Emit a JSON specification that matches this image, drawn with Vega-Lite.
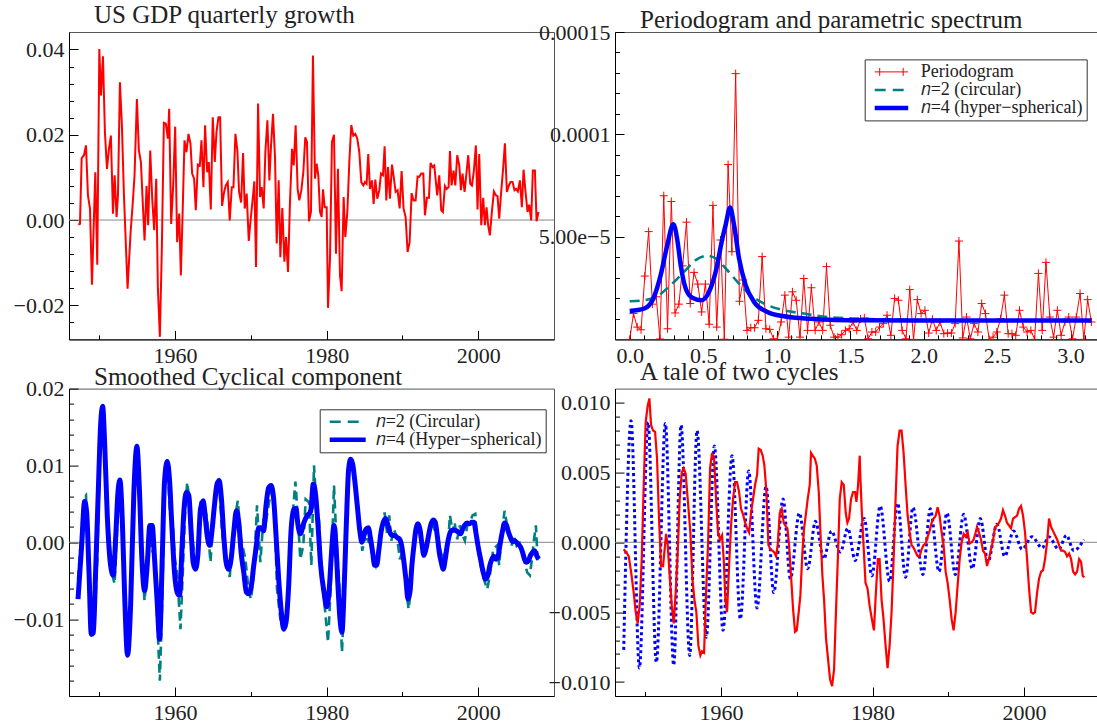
{
"$schema": "https://vega.github.io/schema/vega-lite/v6.json",
"padding": {"left": 12, "top": 2, "right": 0, "bottom": 0},
"bounds": "flush",
"columns": 2,
"spacing": {"row": 48.6, "column": 61},
"resolve": {"scale": {"color": "independent"}, "legend": {"color": "independent"}},
"config": {
  "font": "Liberation Serif",
  "view": {"stroke": "#555", "strokeWidth": 1},
  "axis": {"labelFont": "Liberation Serif", "labelFontSize": 22, "labelColor": "#222", "domainColor": "#000", "tickColor": "#000", "grid": false, "labelFlush": false, "labelOverlap": false, "domainWidth": 1, "tickWidth": 1},
  "title": {"font": "Liberation Serif", "fontSize": 25, "fontWeight": "normal", "color": "#222", "anchor": "start", "dx": 25, "offset": 4, "baseline": "alphabetic", "frame": "group"}
},
"datasets": {
"gdp": [
{"t":1947.23,"v":-0.0011},{"t":1947.45,"v":-0.0009},{"t":1947.67,"v":0.0145},{"t":1947.98,"v":0.0152},{"t":1948.24,"v":0.0175},{"t":1948.50,"v":0.0058},{"t":1948.77,"v":0.0027},{"t":1949.03,"v":-0.0152},{"t":1949.47,"v":0.0112},{"t":1949.73,"v":-0.0105},{"t":1950.00,"v":0.0401},{"t":1950.22,"v":0.0292},{"t":1950.48,"v":0.0384},{"t":1950.74,"v":0.0206},{"t":1951.01,"v":0.0120},{"t":1951.27,"v":0.0167},{"t":1951.53,"v":0.0198},{"t":1951.80,"v":0.0015},{"t":1952.02,"v":0.0105},{"t":1952.28,"v":0.0007},{"t":1952.46,"v":0.0058},{"t":1952.72,"v":0.0323},{"t":1952.98,"v":0.0222},{"t":1953.25,"v":0.0058},{"t":1953.73,"v":-0.0161},{"t":1954.13,"v":-0.0028},{"t":1954.39,"v":0.0034},{"t":1954.65,"v":0.0105},{"t":1954.96,"v":0.0284},{"t":1955.22,"v":0.0163},{"t":1955.49,"v":0.0136},{"t":1955.75,"v":0.0034},{"t":1955.97,"v":-0.0048},{"t":1956.23,"v":0.0080},{"t":1956.45,"v":-0.0012},{"t":1956.72,"v":0.0163},{"t":1956.98,"v":0.0050},{"t":1957.24,"v":-0.0024},{"t":1957.51,"v":0.0097},{"t":1957.73,"v":-0.0161},{"t":1957.99,"v":-0.0274},{"t":1958.25,"v":-0.0067},{"t":1958.52,"v":0.0228},{"t":1958.78,"v":0.0226},{"t":1959.04,"v":0.0191},{"t":1959.22,"v":0.0261},{"t":1959.48,"v":-0.0009},{"t":1959.75,"v":0.0081},{"t":1960.01,"v":0.0219},{"t":1960.27,"v":-0.0052},{"t":1960.54,"v":0.0015},{"t":1960.76,"v":-0.0130},{"t":1961.02,"v":0.0034},{"t":1961.24,"v":0.0187},{"t":1961.50,"v":0.0159},{"t":1961.77,"v":0.0202},{"t":1962.03,"v":0.0179},{"t":1962.25,"v":0.0109},{"t":1962.51,"v":0.0097},{"t":1962.73,"v":0.0023},{"t":1963.00,"v":0.0130},{"t":1963.26,"v":0.0128},{"t":1963.48,"v":0.0187},{"t":1963.74,"v":0.0077},{"t":1963.96,"v":0.0222},{"t":1964.23,"v":0.0112},{"t":1964.45,"v":0.0136},{"t":1964.71,"v":0.0025},{"t":1964.97,"v":0.0241},{"t":1965.24,"v":0.0136},{"t":1965.46,"v":0.0206},{"t":1965.72,"v":0.0241},{"t":1965.94,"v":0.0241},{"t":1966.20,"v":0.0033},{"t":1966.47,"v":0.0066},{"t":1966.69,"v":0.0081},{"t":1966.95,"v":0.0089},{"t":1967.21,"v":-0.0001},{"t":1967.48,"v":0.0077},{"t":1967.70,"v":0.0077},{"t":1967.96,"v":0.0202},{"t":1968.22,"v":0.0163},{"t":1968.44,"v":0.0066},{"t":1968.71,"v":0.0041},{"t":1968.97,"v":0.0157},{"t":1969.19,"v":0.0027},{"t":1969.45,"v":0.0062},{"t":1969.72,"v":-0.0049},{"t":1969.98,"v":0.0003},{"t":1970.20,"v":0.0042},{"t":1970.46,"v":0.0091},{"t":1970.68,"v":-0.0110},{"t":1970.95,"v":0.0273},{"t":1971.21,"v":0.0054},{"t":1971.43,"v":0.0077},{"t":1971.69,"v":0.0027},{"t":1971.91,"v":0.0159},{"t":1972.18,"v":0.0234},{"t":1972.44,"v":0.0093},{"t":1972.66,"v":0.0175},{"t":1972.92,"v":0.0249},{"t":1973.19,"v":0.0144},{"t":1973.41,"v":-0.0055},{"t":1973.67,"v":0.0093},{"t":1973.89,"v":-0.0087},{"t":1974.15,"v":0.0028},{"t":1974.42,"v":-0.0098},{"t":1974.64,"v":-0.0040},{"t":1974.90,"v":-0.0122},{"t":1975.16,"v":0.0042},{"t":1975.43,"v":0.0167},{"t":1975.65,"v":0.0128},{"t":1975.91,"v":0.0222},{"t":1976.17,"v":0.0073},{"t":1976.39,"v":0.0046},{"t":1976.66,"v":0.0070},{"t":1976.92,"v":0.0112},{"t":1977.18,"v":0.0194},{"t":1977.40,"v":0.0183},{"t":1977.67,"v":-0.0003},{"t":1977.93,"v":0.0019},{"t":1978.19,"v":0.0386},
{"t":1978.46,"v":0.0097},{"t":1978.68,"v":0.0132},{"t":1978.90,"v":0.0105},{"t":1979.12,"v":0.0019},{"t":1979.34,"v":0.0007},{"t":1979.52,"v":0.0072},{"t":1979.74,"v":0.0030},{"t":1980.00,"v":0.0030},{"t":1980.18,"v":-0.0206},{"t":1980.44,"v":-0.0091},{"t":1980.70,"v":0.0183},{"t":1980.97,"v":0.0200},{"t":1981.23,"v":-0.0079},{"t":1981.49,"v":0.0120},{"t":1981.76,"v":-0.0130},{"t":1981.98,"v":-0.0167},{"t":1982.24,"v":0.0054},{"t":1982.46,"v":-0.0040},{"t":1982.73,"v":0.0019},{"t":1982.99,"v":0.0136},{"t":1983.25,"v":0.0223},{"t":1983.52,"v":0.0198},{"t":1983.78,"v":0.0202},{"t":1984.04,"v":0.0191},{"t":1984.31,"v":0.0159},{"t":1984.57,"v":0.0089},{"t":1984.84,"v":0.0081},{"t":1985.06,"v":0.0089},{"t":1985.27,"v":0.0085},{"t":1985.49,"v":0.0155},{"t":1985.71,"v":0.0073},{"t":1985.98,"v":0.0093},{"t":1986.20,"v":0.0038},{"t":1986.42,"v":0.0095},{"t":1986.68,"v":0.0050},{"t":1986.95,"v":0.0070},{"t":1987.17,"v":0.0109},{"t":1987.43,"v":0.0105},{"t":1987.65,"v":0.0173},{"t":1987.87,"v":0.0046},{"t":1988.09,"v":0.0124},{"t":1988.35,"v":0.0050},{"t":1988.62,"v":0.0130},{"t":1988.88,"v":0.0097},{"t":1989.10,"v":0.0066},{"t":1989.36,"v":0.0070},{"t":1989.63,"v":0.0027},{"t":1989.89,"v":0.0115},{"t":1990.15,"v":0.0027},{"t":1990.42,"v":0.0007},{"t":1990.68,"v":-0.0075},{"t":1990.95,"v":-0.0052},{"t":1991.21,"v":0.0063},{"t":1991.47,"v":0.0046},{"t":1991.74,"v":0.0046},{"t":1992.00,"v":0.0102},{"t":1992.22,"v":0.0101},{"t":1992.48,"v":0.0109},{"t":1992.75,"v":0.0109},{"t":1992.97,"v":0.0011},{"t":1993.23,"v":0.0052},{"t":1993.50,"v":0.0052},{"t":1993.71,"v":0.0134},{"t":1993.98,"v":0.0124},{"t":1994.20,"v":0.0128},{"t":1994.37,"v":0.0097},{"t":1994.59,"v":0.0058},{"t":1994.86,"v":0.0105},{"t":1995.12,"v":0.0023},{"t":1995.34,"v":0.0019},{"t":1995.61,"v":0.0080},{"t":1995.83,"v":0.0073},{"t":1996.09,"v":0.0077},{"t":1996.27,"v":0.0162},{"t":1996.48,"v":0.0081},{"t":1996.75,"v":0.0116},{"t":1996.97,"v":0.0081},{"t":1997.23,"v":0.0152},{"t":1997.50,"v":0.0128},{"t":1997.72,"v":0.0070},{"t":1997.93,"v":0.0109},{"t":1998.20,"v":0.0066},{"t":1998.46,"v":0.0112},{"t":1998.68,"v":0.0152},{"t":1998.95,"v":0.0085},{"t":1999.17,"v":0.0081},{"t":1999.43,"v":0.0116},{"t":1999.69,"v":0.0175},{"t":1999.91,"v":0.0025},{"t":2000.13,"v":0.0155},{"t":2000.40,"v":-0.0012},{"t":2000.66,"v":0.0052},{"t":2000.88,"v":-0.0012},{"t":2001.10,"v":0.0030},{"t":2001.32,"v":-0.0014},{"t":2001.54,"v":-0.0036},{"t":2001.80,"v":0.0019},{"t":2002.07,"v":0.0067},{"t":2002.33,"v":0.0058},{"t":2002.55,"v":0.0056},{"t":2002.77,"v":0.0003},{"t":2003.03,"v":0.0066},{"t":2003.30,"v":0.0124},{"t":2003.52,"v":0.0180},{"t":2003.78,"v":0.0066},{"t":2004.05,"v":0.0081},{"t":2004.27,"v":0.0089},{"t":2004.53,"v":0.0089},{"t":2004.79,"v":0.0070},{"t":2005.01,"v":0.0073},{"t":2005.23,"v":0.0067},{"t":2005.50,"v":0.0093},{"t":2005.76,"v":0.0030},{"t":2005.98,"v":0.0118},{"t":2006.24,"v":0.0066},{"t":2006.51,"v":0.0019},{"t":2006.73,"v":0.0036},{"t":2006.99,"v":-0.0001},{"t":2007.21,"v":0.0116},{"t":2007.48,"v":0.0116},{"t":2007.70,"v":-0.0003},{"t":2007.96,"v":0.0019}
],
"pg": [
{"f":0,"p":0.0},{"f":0.0258,"p":1.26e-5},{"f":0.0515,"p":6.0e-6},{"f":0.0773,"p":4.7e-6},{"f":0.1030,"p":3.09e-5},{"f":0.1288,"p":5.26e-5},{"f":0.1545,"p":1.72e-5},{"f":0.1803,"p":2.08e-5},{"f":0.2060,"p":2e-7},{"f":0.2318,"p":7.01e-5},{"f":0.2575,"p":5.2e-6},{"f":0.2833,"p":6.73e-5},{"f":0.3090,"p":1.29e-5},{"f":0.3348,"p":1.72e-5},{"f":0.3605,"p":3.59e-5},{"f":0.3863,"p":5.72e-5},{"f":0.4120,"p":1.75e-5},{"f":0.4378,"p":3.27e-5},{"f":0.4635,"p":2.70e-5},{"f":0.4893,"p":1.34e-5},{"f":0.5150,"p":2.70e-5},{"f":0.5408,"p":7.4e-6},{"f":0.5665,"p":6.54e-5},{"f":0.5923,"p":6.0e-6},{"f":0.6180,"p":4.85e-5},{"f":0.6438,"p":1e-7},{"f":0.6695,"p":8.53e-5},{"f":0.6953,"p":4.28e-5},{"f":0.7210,"p":1.297e-4},{"f":0.7468,"p":1.86e-5},{"f":0.7725,"p":2.9e-5},{"f":0.7983,"p":4.4e-6},{"f":0.8240,"p":5.7e-6},{"f":0.8498,"p":5.7e-6},{"f":0.8755,"p":9.3e-6},{"f":0.9013,"p":4.04e-5},{"f":0.9270,"p":5.2e-6},{"f":0.9528,"p":4.9e-6},{"f":0.9785,"p":3e-7},{"f":1.0043,"p":0.0},{"f":1.0300,"p":8.5e-6},{"f":1.0558,"p":2.16e-5},{"f":1.0815,"p":1.1e-6},{"f":1.1073,"p":2.32e-5},{"f":1.1330,"p":1.91e-5},{"f":1.1588,"p":1.1e-6},{"f":1.1845,"p":2.97e-5},{"f":1.2103,"p":4.4e-6},{"f":1.2361,"p":2.52e-5},{"f":1.2618,"p":4.4e-6},{"f":1.2876,"p":8.5e-6},{"f":1.3133,"p":4.4e-6},{"f":1.3391,"p":3.55e-5},{"f":1.3648,"p":6.9e-6},{"f":1.3906,"p":1.1e-6},{"f":1.4163,"p":1.1e-6},{"f":1.4421,"p":2.3e-6},{"f":1.4678,"p":4.4e-6},{"f":1.4936,"p":5.2e-6},{"f":1.5193,"p":8.5e-6},{"f":1.5451,"p":4.4e-6},{"f":1.5708,"p":1.0e-5},{"f":1.5966,"p":1.05e-5},{"f":1.6223,"p":3e-7},{"f":1.6481,"p":3.6e-6},{"f":1.6738,"p":3.6e-6},{"f":1.6996,"p":6.0e-6},{"f":1.7253,"p":7.7e-6},{"f":1.7511,"p":1.18e-5},{"f":1.7768,"p":2.0e-6},{"f":1.8026,"p":2.0e-5},{"f":1.8283,"p":1.91e-5},{"f":1.8541,"p":4.4e-6},{"f":1.8798,"p":3e-7},{"f":1.9056,"p":2.43e-5},{"f":1.9313,"p":0.0},{"f":1.9571,"p":1.94e-5},{"f":1.9828,"p":1.26e-5},{"f":2.0086,"p":1.42e-5},{"f":2.0343,"p":3.1e-6},{"f":2.0601,"p":9.8e-6},{"f":2.0858,"p":4.4e-6},{"f":2.1116,"p":8.5e-6},{"f":2.1373,"p":2.8e-6},{"f":2.1631,"p":3.1e-6},{"f":2.1888,"p":3.1e-6},{"f":2.2146,"p":7.7e-6},{"f":2.2403,"p":4.8e-5},{"f":2.2661,"p":7e-7},{"f":2.2918,"p":1.09e-5},{"f":2.3176,"p":3e-7},{"f":2.3433,"p":7.7e-6},{"f":2.3691,"p":3.6e-6},{"f":2.3948,"p":1.75e-5},{"f":2.4206,"p":1.26e-5},{"f":2.4463,"p":0.0},{"f":2.4721,"p":1.1e-6},{"f":2.4978,"p":3.6e-6},{"f":2.5236,"p":1.01e-5},{"f":2.5493,"p":2.16e-5},{"f":2.5751,"p":2.8e-6},{"f":2.6009,"p":2.8e-6},{"f":2.6266,"p":2.0e-6},{"f":2.6524,"p":1.42e-5},{"f":2.6781,"p":6.0e-6},{"f":2.7039,"p":3.6e-6},{"f":2.7296,"p":4.4e-6},{"f":2.7554,"p":0.0},{"f":2.7811,"p":3.22e-5},{"f":2.8069,"p":4.4e-6},{"f":2.8326,"p":3.76e-5},{"f":2.8584,"p":1.09e-5},{"f":2.8841,"p":1.1e-6},{"f":2.9099,"p":1.42e-5},{"f":2.9356,"p":2.0e-6},{"f":2.9614,"p":8.5e-6},{"f":2.9871,"p":1.09e-5},{"f":3.0129,"p":3e-7},{"f":3.0386,"p":1.09e-5},{"f":3.0644,"p":2.24e-5},{"f":3.0901,"p":0.0},{"f":3.1159,"p":1.94e-5},{"f":3.1416,"p":8.5e-6}
],
"s2": [
{"f":0,"p":1.86e-5},{"f":0.0975,"p":1.91e-5},{"f":0.188,"p":2.11e-5},{"f":0.279,"p":2.65e-5},{"f":0.370,"p":3.30e-5},{"f":0.449,"p":3.87e-5},{"f":0.528,"p":4.08e-5},{"f":0.585,"p":3.95e-5},{"f":0.653,"p":3.46e-5},{"f":0.733,"p":2.81e-5},{"f":0.823,"p":2.16e-5},{"f":0.914,"p":1.75e-5},{"f":1.050,"p":1.42e-5},{"f":1.186,"p":1.26e-5},{"f":1.345,"p":1.09e-5},{"f":1.572,"p":1.01e-5},{"f":2.0,"p":9.5e-6},{"f":3.1416,"p":9.2e-6}
],
"s4": [
{"f":0,"p":1.39e-5},{"f":0.0975,"p":1.50e-5},{"f":0.1656,"p":2.08e-5},{"f":0.2109,"p":3.14e-5},{"f":0.256,"p":4.61e-5},{"f":0.297,"p":5.62e-5},{"f":0.324,"p":4.85e-5},{"f":0.347,"p":3.63e-5},{"f":0.381,"p":2.48e-5},{"f":0.426,"p":2.03e-5},{"f":0.488,"p":1.91e-5},{"f":0.540,"p":2.32e-5},{"f":0.585,"p":3.30e-5},{"f":0.631,"p":4.93e-5},{"f":0.653,"p":5.59e-5},{"f":0.683,"p":6.44e-5},{"f":0.710,"p":5.59e-5},{"f":0.744,"p":3.95e-5},{"f":0.789,"p":2.65e-5},{"f":0.846,"p":1.83e-5},{"f":0.937,"p":1.34e-5},{"f":1.050,"p":1.13e-5},{"f":1.232,"p":1.01e-5},{"f":1.572,"p":9.3e-6},{"f":2.2,"p":9.2e-6},{"f":3.1416,"p":9.2e-6}
],
"c4": [
{"t":1947.19,"v":-0.0074},{"t":1947.67,"v":-0.0004},{"t":1948.06,"v":0.0053},{"t":1948.33,"v":0.0039},{"t":1948.64,"v":-0.0039},{"t":1948.94,"v":-0.0120},{"t":1949.21,"v":-0.0118},{"t":1949.51,"v":-0.0039},{"t":1949.86,"v":0.0065},{"t":1950.17,"v":0.0152},{"t":1950.44,"v":0.0177},{"t":1950.70,"v":0.0130},{"t":1951.05,"v":0.0035},{"t":1951.49,"v":-0.0030},{"t":1951.84,"v":-0.0043},{"t":1952.15,"v":0.0004},{"t":1952.46,"v":0.0065},{"t":1952.72,"v":0.0081},{"t":1953.03,"v":0.0030},{"t":1953.33,"v":-0.0065},{"t":1953.73,"v":-0.0147},{"t":1954.13,"v":-0.0082},{"t":1954.56,"v":0.0065},{"t":1954.96,"v":0.0125},{"t":1955.27,"v":0.0074},{"t":1955.62,"v":-0.0022},{"t":1955.97,"v":-0.0063},{"t":1956.32,"v":-0.0030},{"t":1956.67,"v":0.0022},{"t":1956.98,"v":0.0022},{"t":1957.29,"v":-0.0022},{"t":1957.64,"v":-0.0078},{"t":1957.95,"v":-0.0126},{"t":1958.30,"v":-0.0022},{"t":1958.60,"v":0.0078},{"t":1958.96,"v":0.0105},{"t":1959.26,"v":0.0082},{"t":1959.57,"v":0.0022},{"t":1959.92,"v":-0.0039},{"t":1960.27,"v":-0.0065},{"t":1960.58,"v":-0.0069},{"t":1960.93,"v":-0.0004},{"t":1961.15,"v":0.0039},{"t":1961.50,"v":0.0065},{"t":1961.81,"v":0.0061},{"t":1962.12,"v":0.0013},{"t":1962.38,"v":-0.0026},{"t":1962.69,"v":-0.0035},{"t":1963.00,"v":-0.0017},{"t":1963.35,"v":0.0043},{"t":1963.70,"v":0.0054},{"t":1963.96,"v":0.0035},{"t":1964.23,"v":0.0009},{"t":1964.58,"v":-0.0004},{"t":1964.89,"v":0.0017},{"t":1965.19,"v":0.0048},{"t":1965.54,"v":0.0076},{"t":1965.81,"v":0.0080},{"t":1966.12,"v":0.0056},{"t":1966.42,"v":0.0009},{"t":1966.73,"v":-0.0026},{"t":1967.04,"v":-0.0035},{"t":1967.39,"v":-0.0022},{"t":1967.74,"v":0.0013},{"t":1968.09,"v":0.0041},{"t":1968.40,"v":0.0026},{"t":1968.71,"v":-0.0013},{"t":1969.06,"v":-0.0039},{"t":1969.41,"v":-0.0065},{"t":1969.72,"v":-0.0067},{"t":1970.07,"v":-0.0056},{"t":1970.38,"v":-0.0030},{"t":1970.73,"v":-0.0004},{"t":1971.03,"v":0.0019},{"t":1971.34,"v":0.0019},{"t":1971.69,"v":0.0015},{"t":1972.00,"v":0.0048},{"t":1972.35,"v":0.0071},{"t":1972.66,"v":0.0074},{"t":1973.01,"v":0.0056},{"t":1973.32,"v":0.0009},{"t":1973.67,"v":-0.0048},{"t":1974.02,"v":-0.0091},{"t":1974.33,"v":-0.0113},{"t":1974.64,"v":-0.0104},{"t":1974.99,"v":-0.0056},{"t":1975.29,"v":0.0013},{"t":1975.65,"v":0.0043},{"t":1975.95,"v":0.0044},{"t":1976.22,"v":0.0022},{"t":1976.52,"v":0.0011},{"t":1977.01,"v":0.0026},{"t":1977.45,"v":0.0035},{"t":1977.89,"v":0.0040},{"t":1978.24,"v":0.0076},{"t":1978.55,"v":0.0061},{"t":1978.86,"v":0.0022},{"t":1979.21,"v":-0.0030},{"t":1979.65,"v":-0.0065},{"t":1980.00,"v":-0.0084},{"t":1980.31,"v":-0.0065},{"t":1980.62,"v":-0.0017},{"t":1980.97,"v":0.0022},{"t":1981.23,"v":-0.0004},{"t":1981.49,"v":-0.0056},{"t":1981.76,"v":-0.0100},{"t":1982.02,"v":-0.0117},{"t":1982.29,"v":-0.0065},{"t":1982.59,"v":0.0022},{"t":1982.90,"v":0.0095},{"t":1983.17,"v":0.0108},{"t":1983.43,"v":0.0102},{"t":1983.69,"v":0.0082},{"t":1984.04,"v":0.0048},{"t":1984.40,"v":0.0013},{"t":1984.66,"v":0.0000},{"t":1984.92,"v":0.0009},{"t":1985.19,"v":0.0017},{"t":1985.49,"v":0.0019},{"t":1985.80,"v":0.0004},{"t":1986.07,"v":-0.0013},{"t":1986.33,"v":-0.0030},{"t":1986.59,"v":-0.0030},{"t":1986.90,"v":-0.0009},{"t":1987.17,"v":0.0013},{"t":1987.47,"v":0.0026},{"t":1987.78,"v":0.0031},{"t":1988.09,"v":0.0022},{"t":1988.35,"v":0.0013},{"t":1988.66,"v":0.0009},{"t":1988.97,"v":0.0009},{"t":1989.32,"v":0.0006},{"t":1989.63,"v":0.0004},{"t":1989.89,"v":-0.0004},{"t":1990.20,"v":-0.0026},{"t":1990.46,"v":-0.0048},{"t":1990.73,"v":-0.0074},{"t":1990.99,"v":-0.0065},{"t":1991.25,"v":-0.0030},{"t":1991.52,"v":-0.0004},{"t":1991.78,"v":0.0017},{"t":1992.04,"v":0.0024},{"t":1992.31,"v":0.0017},{"t":1992.57,"v":-0.0002},{"t":1992.84,"v":-0.0017},{"t":1993.10,"v":-0.0009},{"t":1993.36,"v":0.0004},{"t":1993.72,"v":0.0022},{"t":1994.07,"v":0.0029},{"t":1994.33,"v":0.0026},{"t":1994.59,"v":0.0009},{"t":1994.86,"v":-0.0013},{"t":1995.12,"v":-0.0026},{"t":1995.39,"v":-0.0035},{"t":1995.65,"v":-0.0022},{"t":1995.91,"v":-0.0004},{"t":1996.18,"v":0.0009},{"t":1996.44,"v":0.0015},{"t":1996.79,"v":0.0016},{"t":1997.10,"v":0.0015},{"t":1997.41,"v":0.0013},{"t":1997.67,"v":0.0011},{"t":1997.94,"v":0.0017},{"t":1998.20,"v":0.0022},{"t":1998.55,"v":0.0025},{"t":1998.86,"v":0.0024},{"t":1999.17,"v":0.0026},{"t":1999.43,"v":0.0026},{"t":1999.69,"v":0.0013},{"t":1999.96,"v":-0.0004},{"t":2000.31,"v":-0.0022},{"t":2000.66,"v":-0.0039},{"t":2000.97,"v":-0.0048},{"t":2001.28,"v":-0.0043},{"t":2001.54,"v":-0.0030},{"t":2001.80,"v":-0.0022},{"t":2002.07,"v":-0.0018},{"t":2002.33,"v":-0.0022},{"t":2002.60,"v":-0.0019},{"t":2002.86,"v":-0.0004},{"t":2003.17,"v":0.0013},{"t":2003.48,"v":0.0025},{"t":2003.74,"v":0.0022},{"t":2004.00,"v":0.0013},{"t":2004.27,"v":0.0006},{"t":2004.53,"v":0.0001},{"t":2004.79,"v":0.0002},{"t":2005.06,"v":0.0000},{"t":2005.32,"v":-0.0003},{"t":2005.58,"v":-0.0006},{"t":2005.85,"v":-0.0013},{"t":2006.11,"v":-0.0022},{"t":2006.38,"v":-0.0026},{"t":2006.64,"v":-0.0024},{"t":2006.90,"v":-0.0017},{"t":2007.17,"v":-0.0013},{"t":2007.43,"v":-0.0011},{"t":2007.70,"v":-0.0017},{"t":2007.96,"v":-0.0022}
],
"c2": [
{"t":1947.19,"v":-0.0048},{"t":1947.98,"v":0.0058},{"t":1948.24,"v":0.0061},{"t":1948.64,"v":-0.0022},{"t":1949.07,"v":-0.0121},{"t":1949.38,"v":-0.0104},{"t":1949.73,"v":-0.0022},{"t":1950.17,"v":0.0147},{"t":1950.44,"v":0.0173},{"t":1950.70,"v":0.0126},{"t":1951.14,"v":0.0030},{"t":1951.62,"v":-0.0039},{"t":1952.02,"v":-0.0054},{"t":1952.37,"v":0.0022},{"t":1952.72,"v":0.0078},{"t":1953.07,"v":0.0013},{"t":1953.38,"v":-0.0074},{"t":1953.73,"v":-0.0143},{"t":1954.13,"v":-0.0082},{"t":1954.56,"v":0.0056},{"t":1954.96,"v":0.0123},{"t":1955.27,"v":0.0065},{"t":1955.62,"v":-0.0026},{"t":1955.97,"v":-0.0076},{"t":1956.32,"v":-0.0035},{"t":1956.67,"v":0.0013},{"t":1956.98,"v":-0.0013},{"t":1957.29,"v":-0.0004},{"t":1957.64,"v":-0.0100},{"t":1957.99,"v":-0.0180},{"t":1958.34,"v":-0.0065},{"t":1958.65,"v":0.0095},{"t":1958.96,"v":0.0108},{"t":1959.31,"v":0.0039},{"t":1959.66,"v":0.0030},{"t":1959.97,"v":-0.0022},{"t":1960.27,"v":-0.0039},{"t":1960.71,"v":-0.0113},{"t":1961.02,"v":-0.0039},{"t":1961.28,"v":0.0030},{"t":1961.59,"v":0.0078},{"t":1961.94,"v":0.0052},{"t":1962.25,"v":0.0009},{"t":1962.56,"v":-0.0022},{"t":1962.91,"v":-0.0030},{"t":1963.35,"v":0.0052},{"t":1963.79,"v":0.0054},{"t":1964.23,"v":0.0030},{"t":1964.67,"v":-0.0026},{"t":1965.10,"v":0.0043},{"t":1965.76,"v":0.0084},{"t":1966.20,"v":0.0013},{"t":1966.73,"v":-0.0030},{"t":1967.21,"v":-0.0045},{"t":1967.74,"v":0.0022},{"t":1968.27,"v":0.0054},{"t":1968.71,"v":0.0004},{"t":1969.28,"v":-0.0022},{"t":1969.72,"v":-0.0065},{"t":1970.02,"v":-0.0074},{"t":1970.38,"v":-0.0043},{"t":1970.81,"v":0.0048},{"t":1971.25,"v":-0.0026},{"t":1971.69,"v":0.0035},{"t":1972.04,"v":0.0030},{"t":1972.40,"v":0.0052},{"t":1972.66,"v":0.0067},{"t":1973.10,"v":0.0048},{"t":1973.45,"v":-0.0061},{"t":1973.89,"v":-0.0100},{"t":1974.33,"v":-0.0108},{"t":1974.64,"v":-0.0100},{"t":1975.21,"v":-0.0004},{"t":1975.87,"v":0.0079},{"t":1976.22,"v":0.0030},{"t":1976.52,"v":-0.0022},{"t":1976.92,"v":-0.0004},{"t":1977.23,"v":0.0056},{"t":1977.67,"v":0.0052},{"t":1977.98,"v":-0.0030},{"t":1978.33,"v":0.0100},{"t":1978.68,"v":0.0043},{"t":1978.99,"v":0.0030},{"t":1979.30,"v":-0.0039},{"t":1979.65,"v":-0.0074},{"t":1980.18,"v":-0.0130},{"t":1980.53,"v":-0.0061},{"t":1980.97,"v":0.0074},{"t":1981.32,"v":-0.0004},{"t":1981.63,"v":-0.0048},{"t":1982.02,"v":-0.0143},{"t":1982.37,"v":-0.0065},{"t":1982.90,"v":0.0087},{"t":1983.25,"v":0.0108},{"t":1983.60,"v":0.0091},{"t":1984.04,"v":0.0056},{"t":1984.70,"v":-0.0011},{"t":1985.01,"v":0.0004},{"t":1985.36,"v":0.0004},{"t":1985.80,"v":-0.0004},{"t":1986.15,"v":-0.0022},{"t":1986.46,"v":-0.0030},{"t":1986.90,"v":-0.0004},{"t":1987.34,"v":0.0017},{"t":1987.65,"v":0.0039},{"t":1988.00,"v":0.0009},{"t":1988.26,"v":0.0035},{"t":1988.53,"v":0.0002},{"t":1988.88,"v":0.0017},{"t":1989.32,"v":0.0004},{"t":1989.67,"v":-0.0022},{"t":1989.98,"v":-0.0013},{"t":1990.29,"v":-0.0030},{"t":1990.55,"v":-0.0065},{"t":1990.81,"v":-0.0087},{"t":1991.08,"v":-0.0065},{"t":1991.52,"v":0.0004},{"t":1992.04,"v":0.0022},{"t":1992.40,"v":0.0013},{"t":1992.75,"v":-0.0017},{"t":1993.06,"v":-0.0013},{"t":1993.45,"v":0.0009},{"t":1993.80,"v":0.0022},{"t":1994.15,"v":0.0019},{"t":1994.68,"v":0.0004},{"t":1995.30,"v":-0.0022},{"t":1995.65,"v":-0.0013},{"t":1996.00,"v":-0.0004},{"t":1996.27,"v":0.0035},{"t":1996.62,"v":0.0013},{"t":1996.88,"v":0.0026},{"t":1997.23,"v":0.0004},{"t":1997.58,"v":0.0022},{"t":1997.94,"v":0.0009},{"t":1998.24,"v":0.0002},{"t":1998.55,"v":0.0022},{"t":1998.90,"v":0.0026},{"t":1999.25,"v":0.0035},{"t":1999.61,"v":0.0037},{"t":1999.87,"v":0.0000},{"t":2000.31,"v":-0.0030},{"t":2000.75,"v":-0.0048},{"t":2001.19,"v":-0.0061},{"t":2001.54,"v":-0.0043},{"t":2001.98,"v":-0.0009},{"t":2002.51,"v":-0.0004},{"t":2002.77,"v":-0.0030},{"t":2003.12,"v":0.0013},{"t":2003.48,"v":0.0041},{"t":2003.74,"v":0.0026},{"t":2004.09,"v":0.0013},{"t":2004.44,"v":-0.0004},{"t":2004.71,"v":0.0009},{"t":2005.06,"v":-0.0004},{"t":2005.41,"v":0.0002},{"t":2005.76,"v":-0.0013},{"t":2006.11,"v":-0.0026},{"t":2006.46,"v":-0.0039},{"t":2006.82,"v":-0.0043},{"t":2007.08,"v":-0.0022},{"t":2007.34,"v":0.0002},{"t":2007.61,"v":0.0022},{"t":2007.87,"v":-0.0030}
],
"red": [
{"t":1947.15,"v":-0.0005},{"t":1947.59,"v":-0.0008},{"t":1947.81,"v":-0.0010},{"t":1948.12,"v":-0.0021},{"t":1948.47,"v":-0.0036},{"t":1948.73,"v":-0.0050},{"t":1949.00,"v":-0.0058},{"t":1949.26,"v":-0.0045},{"t":1949.53,"v":-0.0012},{"t":1949.79,"v":0.0041},{"t":1950.05,"v":0.0086},{"t":1950.32,"v":0.0098},{"t":1950.54,"v":0.0103},{"t":1950.76,"v":0.0084},{"t":1951.02,"v":0.0080},{"t":1951.29,"v":0.0079},{"t":1951.55,"v":0.0060},{"t":1951.81,"v":0.0017},{"t":1952.08,"v":-0.0017},{"t":1952.34,"v":-0.0017},{"t":1952.52,"v":-0.0007},{"t":1952.74,"v":0.0006},{"t":1952.96,"v":-0.0002},{"t":1953.22,"v":-0.0024},{"t":1953.49,"v":-0.0045},{"t":1953.75,"v":-0.0058},{"t":1954.01,"v":-0.0036},{"t":1954.28,"v":-0.0007},{"t":1954.54,"v":0.0031},{"t":1954.81,"v":0.0050},{"t":1955.07,"v":0.0053},{"t":1955.33,"v":0.0049},{"t":1955.60,"v":0.0031},{"t":1955.95,"v":0.0007},{"t":1956.22,"v":-0.0026},{"t":1956.48,"v":-0.0041},{"t":1956.74,"v":-0.0050},{"t":1957.01,"v":-0.0074},{"t":1957.27,"v":-0.0081},{"t":1957.49,"v":-0.0078},{"t":1957.76,"v":-0.0079},{"t":1958.02,"v":-0.0036},{"t":1958.28,"v":-0.0002},{"t":1958.55,"v":0.0053},{"t":1958.81,"v":0.0064},{"t":1959.08,"v":0.0060},{"t":1959.34,"v":0.0031},{"t":1959.60,"v":0.0007},{"t":1959.87,"v":0.0002},{"t":1960.13,"v":0.0005},{"t":1960.35,"v":-0.0012},{"t":1960.57,"v":-0.0041},{"t":1960.79,"v":-0.0050},{"t":1961.06,"v":-0.0017},{"t":1961.32,"v":0.0012},{"t":1961.58,"v":0.0031},{"t":1961.85,"v":0.0043},{"t":1962.11,"v":0.0043},{"t":1962.38,"v":0.0036},{"t":1962.64,"v":0.0024},{"t":1962.90,"v":0.0020},{"t":1963.17,"v":0.0014},{"t":1963.43,"v":0.0010},{"t":1963.70,"v":0.0007},{"t":1963.96,"v":0.0021},{"t":1964.22,"v":0.0031},{"t":1964.49,"v":0.0041},{"t":1964.75,"v":0.0048},{"t":1964.97,"v":0.0067},{"t":1965.24,"v":0.0066},{"t":1965.50,"v":0.0062},{"t":1965.72,"v":0.0055},{"t":1965.99,"v":0.0036},{"t":1966.25,"v":-0.0002},{"t":1966.51,"v":-0.0005},{"t":1966.78,"v":-0.0006},{"t":1967.00,"v":-0.0007},{"t":1967.26,"v":-0.0010},{"t":1967.48,"v":-0.0002},{"t":1967.75,"v":0.0021},{"t":1968.01,"v":0.0024},{"t":1968.27,"v":0.0014},{"t":1968.49,"v":0.0012},{"t":1968.76,"v":0.0010},{"t":1968.98,"v":-0.0002},{"t":1969.24,"v":-0.0024},{"t":1969.51,"v":-0.0048},{"t":1969.77,"v":-0.0064},{"t":1969.99,"v":-0.0063},{"t":1970.25,"v":-0.0050},{"t":1970.47,"v":-0.0038},{"t":1970.74,"v":-0.0007},{"t":1970.96,"v":0.0010},{"t":1971.22,"v":0.0021},{"t":1971.44,"v":0.0031},{"t":1971.71,"v":0.0041},{"t":1971.88,"v":0.0064},{"t":1972.10,"v":0.0062},{"t":1972.37,"v":0.0060},{"t":1972.63,"v":0.0055},{"t":1972.90,"v":0.0036},{"t":1973.12,"v":0.0007},{"t":1973.38,"v":-0.0024},{"t":1973.60,"v":-0.0041},{"t":1973.86,"v":-0.0069},{"t":1974.13,"v":-0.0084},{"t":1974.39,"v":-0.0098},{"t":1974.66,"v":-0.0103},{"t":1974.92,"v":-0.0091},{"t":1975.18,"v":-0.0048},{"t":1975.45,"v":-0.0007},{"t":1975.67,"v":0.0031},{"t":1975.93,"v":0.0043},{"t":1976.20,"v":0.0041},{"t":1976.46,"v":0.0021},{"t":1976.68,"v":0.0014},{"t":1976.90,"v":0.0017},{"t":1977.16,"v":0.0031},{"t":1977.43,"v":0.0036},{"t":1977.69,"v":0.0036},{"t":1977.87,"v":0.0029},{"t":1978.09,"v":0.0041},{"t":1978.31,"v":0.0062},{"t":1978.37,"v":0.0050},{"t":1978.59,"v":0.0021},{"t":1978.81,"v":-0.0002},{"t":1979.07,"v":-0.0029},{"t":1979.34,"v":-0.0033},{"t":1979.60,"v":-0.0045},{"t":1979.91,"v":-0.0055},{"t":1980.18,"v":-0.0063},{"t":1980.44,"v":-0.0036},{"t":1980.70,"v":-0.0012},{"t":1980.93,"v":-0.0012},{"t":1981.19,"v":-0.0041},{"t":1981.45,"v":-0.0055},{"t":1981.72,"v":-0.0074},{"t":1981.98,"v":-0.0090},{"t":1982.25,"v":-0.0074},{"t":1982.51,"v":-0.0050},{"t":1982.78,"v":-0.0012},{"t":1983.04,"v":0.0031},{"t":1983.30,"v":0.0069},{"t":1983.57,"v":0.0080},{"t":1983.83,"v":0.0080},{"t":1984.10,"v":0.0064},{"t":1984.36,"v":0.0041},{"t":1984.63,"v":0.0019},{"t":1984.89,"v":0.0007},{"t":1985.15,"v":-0.0002},{"t":1985.42,"v":-0.0004},{"t":1985.68,"v":-0.0007},{"t":1985.95,"v":-0.0010},{"t":1986.21,"v":-0.0010},{"t":1986.48,"v":-0.0005},{"t":1986.74,"v":-0.0002},{"t":1987.00,"v":-0.0001},{"t":1987.27,"v":0.0004},{"t":1987.53,"v":0.0008},{"t":1987.80,"v":0.0014},{"t":1988.06,"v":0.0017},{"t":1988.33,"v":0.0019},{"t":1988.59,"v":0.0025},{"t":1988.85,"v":0.0019},{"t":1989.12,"v":0.0007},{"t":1989.38,"v":-0.0002},{"t":1989.65,"v":-0.0021},{"t":1989.91,"v":-0.0029},{"t":1990.18,"v":-0.0041},{"t":1990.44,"v":-0.0055},{"t":1990.70,"v":-0.0063},{"t":1990.97,"v":-0.0050},{"t":1991.23,"v":-0.0031},{"t":1991.50,"v":-0.0012},{"t":1991.76,"v":0.0000},{"t":1992.03,"v":0.0006},{"t":1992.29,"v":0.0004},{"t":1992.56,"v":0.0007},{"t":1992.82,"v":-0.0001},{"t":1993.08,"v":0.0000},{"t":1993.35,"v":0.0002},{"t":1993.61,"v":0.0007},{"t":1993.79,"v":0.0011},{"t":1994.05,"v":0.0007},{"t":1994.32,"v":0.0002},{"t":1994.58,"v":-0.0006},{"t":1994.85,"v":-0.0008},{"t":1995.11,"v":-0.0017},{"t":1995.37,"v":-0.0012},{"t":1995.64,"v":-0.0005},{"t":1995.90,"v":0.0001},{"t":1996.17,"v":0.0011},{"t":1996.43,"v":0.0012},{"t":1996.70,"v":0.0014},{"t":1996.96,"v":0.0017},{"t":1997.22,"v":0.0023},{"t":1997.49,"v":0.0019},{"t":1997.75,"v":0.0014},{"t":1998.02,"v":0.0012},{"t":1998.28,"v":0.0010},{"t":1998.55,"v":0.0017},{"t":1998.81,"v":0.0018},{"t":1999.07,"v":0.0019},{"t":1999.34,"v":0.0024},{"t":1999.60,"v":0.0026},{"t":1999.87,"v":0.0019},{"t":2000.13,"v":0.0007},{"t":2000.40,"v":-0.0012},{"t":2000.66,"v":-0.0033},{"t":2000.93,"v":-0.0050},{"t":2001.19,"v":-0.0051},{"t":2001.45,"v":-0.0050},{"t":2001.72,"v":-0.0036},{"t":2001.98,"v":-0.0026},{"t":2002.25,"v":-0.0021},{"t":2002.51,"v":-0.0020},{"t":2002.77,"v":-0.0012},{"t":2003.04,"v":0.0000},{"t":2003.30,"v":0.0017},{"t":2003.57,"v":0.0011},{"t":2003.83,"v":0.0008},{"t":2004.10,"v":0.0005},{"t":2004.36,"v":0.0002},{"t":2004.62,"v":-0.0002},{"t":2004.89,"v":-0.0006},{"t":2005.15,"v":-0.0006},{"t":2005.42,"v":-0.0007},{"t":2005.68,"v":-0.0010},{"t":2005.95,"v":-0.0008},{"t":2006.21,"v":-0.0012},{"t":2006.47,"v":-0.0021},{"t":2006.74,"v":-0.0023},{"t":2007.00,"v":-0.0021},{"t":2007.27,"v":-0.0012},{"t":2007.53,"v":-0.0014},{"t":2007.75,"v":-0.0024},{"t":2007.97,"v":-0.0025}
],
"dot": [
{"t":1947.15,"v":-0.0077},{"t":1948.12,"v":0.0087},{"t":1949.22,"v":-0.0090},{"t":1950.36,"v":0.0086},{"t":1951.46,"v":-0.0086},{"t":1952.65,"v":0.0085},{"t":1953.75,"v":-0.0088},{"t":1954.72,"v":0.0084},{"t":1955.86,"v":-0.0081},{"t":1956.83,"v":0.0080},{"t":1958.06,"v":-0.0068},{"t":1959.12,"v":0.0069},{"t":1960.26,"v":-0.0063},{"t":1961.45,"v":0.0062},{"t":1962.55,"v":-0.0055},{"t":1963.65,"v":0.0051},{"t":1964.75,"v":-0.0047},{"t":1965.94,"v":0.0040},{"t":1966.95,"v":-0.0036},{"t":1968.19,"v":0.0031},{"t":1969.15,"v":-0.0026},{"t":1970.34,"v":0.0021},{"t":1971.44,"v":-0.0019},{"t":1972.46,"v":0.0015},{"t":1973.56,"v":-0.0012},{"t":1974.57,"v":0.0008},{"t":1975.76,"v":-0.0007},{"t":1976.73,"v":0.0010},{"t":1977.71,"v":-0.0013},{"t":1978.90,"v":0.0017},{"t":1979.91,"v":-0.0024},{"t":1981.01,"v":0.0026},{"t":1982.25,"v":-0.0028},{"t":1983.30,"v":0.0028},{"t":1984.36,"v":-0.0025},{"t":1985.33,"v":0.0025},{"t":1986.65,"v":-0.0023},{"t":1987.62,"v":0.0024},{"t":1988.77,"v":-0.0021},{"t":1989.82,"v":0.0021},{"t":1990.93,"v":-0.0023},{"t":1992.03,"v":0.0020},{"t":1993.17,"v":-0.0019},{"t":1994.23,"v":0.0017},{"t":1995.24,"v":-0.0014},{"t":1996.43,"v":0.0013},{"t":1997.44,"v":-0.0010},{"t":1998.63,"v":0.0008},{"t":1999.74,"v":-0.0005},{"t":2001.06,"v":0.0004},{"t":2002.38,"v":-0.0004},{"t":2003.26,"v":0.0004},{"t":2004.58,"v":-0.0005},{"t":2005.59,"v":0.0005},{"t":2006.56,"v":-0.0006},{"t":2007.89,"v":0.0002}
]
},
"concat": [
{
  "width": 485, "height": 307.4,
  "title": {"text": "US GDP quarterly growth"},
  "encoding": {"y": {"field": "v", "type": "quantitative", "scale": {"domain": [-0.028, 0.0441], "nice": false, "zero": false},
    "axis": {"title": null, "values": [-0.024,-0.02,-0.016,-0.012,-0.008,-0.004,0,0.004,0.008,0.012,0.016,0.02,0.024,0.028,0.032,0.036,0.04], "format": ".2f", "labelExpr": "abs(datum.value/0.02-round(datum.value/0.02))<0.01 ? datum.label : ''", "tickSize": {"condition": {"test": "abs(datum.value/0.02-round(datum.value/0.02))<0.01", "value": -9}, "value": -4.5}, "labelPadding": 14}}},
  "layer": [
    {"data": {"values": [{"v": 0}]}, "mark": {"type": "rule", "color": "#888888", "strokeWidth": 1}},
    {"data": {"name": "gdp"}, "mark": {"type": "line", "color": "#ff0000", "strokeWidth": 2, "clip": true},
     "encoding": {"x": {"field": "t", "type": "quantitative", "scale": {"domain": [1946, 2010], "nice": false, "zero": false},
       "axis": {"title": null, "values": [1950,1960,1970,1980,1990,2000], "format": "d", "labelExpr": "datum.value % 20 == 0 ? datum.label : ''", "tickSize": {"condition": {"test": "datum.value % 20 == 0", "value": -9}, "value": -4.5}, "labelPadding": 15}}}}
  ]
},
{
  "width": 482, "height": 307.4,
  "title": {"text": "Periodogram and parametric spectrum", "offset": -12},
  "encoding": {
    "x": {"field": "f", "type": "quantitative", "scale": {"domain": [-0.1, 3.1796], "nice": false, "zero": false},
      "axis": {"title": null, "values": [0,0.1,0.2,0.3,0.4,0.5,0.6,0.7,0.8,0.9,1,1.1,1.2,1.3,1.4,1.5,1.6,1.7,1.8,1.9,2,2.1,2.2,2.3,2.4,2.5,2.6,2.7,2.8,2.9,3,3.1], "format": ".1f", "labelExpr": "abs(datum.value*2-round(datum.value*2))<0.01 ? datum.label : ''", "tickSize": {"condition": {"test": "abs(datum.value*2-round(datum.value*2))<0.01", "value": -9}, "value": -4.5}, "labelPadding": 15}},
    "y": {"field": "p", "type": "quantitative", "scale": {"domain": [0, 0.00015], "nice": false, "zero": false},
      "axis": {"title": null, "values": [0.00001,0.00002,0.00003,0.00004,0.00005,0.00006,0.00007,0.00008,0.00009,0.0001,0.00011,0.00012,0.00013,0.00014,0.00015], "labelExpr": "abs(datum.value-0.00005)<1e-9 ? '5.00e−5' : abs(datum.value-0.0001)<1e-9 ? '0.0001' : abs(datum.value-0.00015)<1e-9 ? '0.00015' : ''", "tickSize": {"condition": {"test": "abs(datum.value/0.00005-round(datum.value/0.00005))<0.01", "value": -9}, "value": -4.5}, "labelPadding": 14}}
  },
  "layer": [
    {"data": {"name": "pg"}, "mark": {"type": "line", "strokeWidth": 1, "clip": true},
     "encoding": {"color": {"datum": "P", "type": "nominal", "scale": {"domain": ["P", "n2", "n4"], "range": ["#ff0000", "#008080", "#0000ff"]},
       "legend": {"title": null, "orient": "none", "legendX": 249.7, "legendY": 27.4, "labelExpr": "datum.value == 'P' ? 'Periodogram' : datum.value == 'n2' ? '𝑛=2 (circular)' : '𝑛=4 (hyper−spherical)'", "labelFont": "Liberation Serif", "labelFontSize": 18, "labelColor": "#222", "labelLimit": 400, "symbolSize": 100, "labelOffset": 34.5, "padding": 3.5, "rowPadding": 0, "strokeColor": "#333", "fillColor": "#ffffff", "symbolType": "M-0.5,0H6.2",
         "encode": {"symbols": {"update": {"shape": {"signal": "datum.value == 'P' ? 'M-0.5,0H6.2M0.5,-0.8V0.8M5.2,-0.8V0.8' : 'M-0.5,0H6.2'"}, "strokeWidth": {"signal": "datum.value == 'P' ? 1 : datum.value == 'n2' ? 2.5 : 4.5"}, "strokeDash": {"signal": "datum.value == 'n2' ? [11,7] : null"}, "fill": {"value": "transparent"}}}}}}}},
    {"data": {"name": "pg"}, "mark": {"type": "point", "shape": "M-1,0H1M0,-1V1", "size": 64, "filled": false, "strokeWidth": 1, "color": "#ff0000", "opacity": 1, "clip": true}},
    {"data": {"name": "s2"}, "mark": {"type": "line", "strokeWidth": 2.6, "strokeDash": [10, 6], "interpolate": "monotone"},
     "encoding": {"color": {"datum": "n2", "type": "nominal"}}},
    {"data": {"name": "s4"}, "mark": {"type": "line", "strokeWidth": 4.5, "interpolate": "monotone"},
     "encoding": {"color": {"datum": "n4", "type": "nominal"}}}
  ]
},
{
  "width": 485, "height": 307.4,
  "title": {"text": "Smoothed Cyclical component", "offset": -12},
  "encoding": {"y": {"field": "v", "type": "quantitative", "scale": {"domain": [-0.02, 0.02], "nice": false, "zero": false},
    "axis": {"title": null, "values": [-0.018,-0.016,-0.014,-0.012,-0.01,-0.008,-0.006,-0.004,-0.002,0,0.002,0.004,0.006,0.008,0.01,0.012,0.014,0.016,0.018,0.02], "format": ".2f", "labelExpr": "abs(datum.value/0.01-round(datum.value/0.01))<0.01 ? datum.label : ''", "tickSize": {"condition": {"test": "abs(datum.value/0.01-round(datum.value/0.01))<0.01", "value": -9}, "value": -4.5}, "labelPadding": 14}}},
  "layer": [
    {"data": {"values": [{"v": 0}]}, "mark": {"type": "rule", "color": "#888888", "strokeWidth": 1}},
    {"data": {"name": "c2"}, "mark": {"type": "line", "strokeWidth": 2.6, "strokeDash": [9, 5], "clip": true},
     "encoding": {"x": {"field": "t", "type": "quantitative", "scale": {"domain": [1946, 2010], "nice": false, "zero": false},
       "axis": {"title": null, "values": [1950,1960,1970,1980,1990,2000], "format": "d", "labelExpr": "datum.value % 20 == 0 ? datum.label : ''", "tickSize": {"condition": {"test": "datum.value % 20 == 0", "value": -9}, "value": -4.5}, "labelPadding": 15}},
       "color": {"datum": "n2", "type": "nominal", "scale": {"domain": ["n2", "n4"], "range": ["#008080", "#0000ff"]},
         "legend": {"title": null, "orient": "none", "legendX": 250.7, "legendY": 20.7, "labelExpr": "datum.value == 'n2' ? '𝑛=2 (Circular)' : '𝑛=4 (Hyper−spherical)'", "labelFont": "Liberation Serif", "labelFontSize": 18, "labelColor": "#222", "labelLimit": 400, "symbolSize": 100, "labelOffset": 34.5, "padding": 3.5, "rowPadding": 0, "strokeColor": "#333", "fillColor": "#ffffff", "symbolType": "M-0.5,0H6.7",
           "encode": {"symbols": {"update": {"shape": {"value": "M-0.5,0H6.7"}, "strokeWidth": {"signal": "datum.value == 'n2' ? 2.5 : 4.5"}, "strokeDash": {"signal": "datum.value == 'n2' ? [11,7] : null"}, "fill": {"value": "transparent"}}}}}}}},
    {"data": {"name": "c4"}, "mark": {"type": "line", "strokeWidth": 5, "interpolate": "monotone", "clip": true},
     "encoding": {"x": {"field": "t", "type": "quantitative"}, "color": {"datum": "n4", "type": "nominal"}}}
  ]
},
{
  "width": 482, "height": 307.4,
  "title": {"text": "A tale of two cycles"},
  "encoding": {"y": {"field": "v", "type": "quantitative", "scale": {"domain": [-0.011, 0.011], "nice": false, "zero": false},
    "axis": {"title": null, "values": [-0.01,-0.009,-0.008,-0.007,-0.006,-0.005,-0.004,-0.003,-0.002,-0.001,0,0.001,0.002,0.003,0.004,0.005,0.006,0.007,0.008,0.009,0.01], "format": ".3f", "labelExpr": "abs(datum.value/0.005-round(datum.value/0.005))<0.01 ? datum.label : ''", "tickSize": {"condition": {"test": "abs(datum.value/0.005-round(datum.value/0.005))<0.01", "value": -9}, "value": -4.5}, "labelPadding": 14}}},
  "layer": [
    {"data": {"values": [{"v": 0}]}, "mark": {"type": "rule", "color": "#888888", "strokeWidth": 1}},
    {"data": {"name": "dot"}, "mark": {"type": "line", "color": "#0000ff", "strokeWidth": 3, "strokeDash": [3, 3], "interpolate": "monotone", "clip": true},
     "encoding": {"x": {"field": "t", "type": "quantitative", "scale": {"domain": [1946, 2009.63], "nice": false, "zero": false},
       "axis": {"title": null, "values": [1950,1960,1970,1980,1990,2000], "format": "d", "labelExpr": "datum.value % 20 == 0 ? datum.label : ''", "tickSize": {"condition": {"test": "datum.value % 20 == 0", "value": -9}, "value": -4.5}, "labelPadding": 15}}}},
    {"data": {"name": "red"}, "mark": {"type": "line", "color": "#ff0000", "strokeWidth": 2.2, "clip": true},
     "encoding": {"x": {"field": "t", "type": "quantitative"}}}
  ]
}
]
}
